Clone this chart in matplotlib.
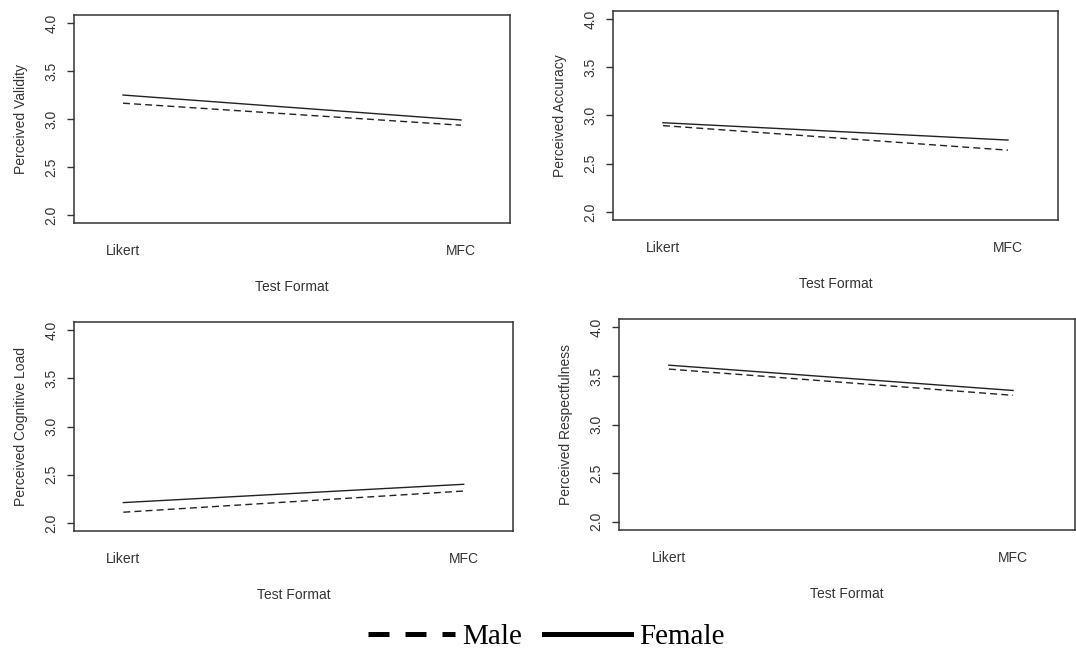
import matplotlib.pyplot as plt
from matplotlib.lines import Line2D

# Data
formats = ['Likert', 'MFC']
measures = ['Perceived Validity', 'Perceived Accuracy',
            'Perceived Cognitive Load', 'Perceived Respectfulness']
female_means = [[3.25, 2.99], [2.925, 2.745], [2.21, 2.40], [3.61, 3.35]]
male_means = [[3.165, 2.935], [2.895, 2.64], [2.11, 2.33], [3.57, 3.30]]
genders = ['Male', 'Female']
y_ticks = [2.0, 2.5, 3.0, 3.5, 4.0]

plt.rcParams['font.family'] = 'Liberation Sans'

W, H = 1076, 653
fig = plt.figure(figsize=(W / 100, H / 100), dpi=100)

# panel boxes in pixels: left, right, top, bottom
boxes = [(74, 510, 15, 223), (613, 1058, 11, 220),
         (74, 513, 322, 531), (619, 1075, 319, 530)]
ink = '#333333'

for i, (l, r, t, b) in enumerate(boxes):
    ax = fig.add_axes([l / W, 1 - b / H, (r - l) / W, (b - t) / H])
    x = list(range(1, len(formats) + 1))
    ax.plot(x, male_means[i], color='#222222', lw=1.0, ls=(0, (5, 3)))
    ax.plot(x, female_means[i], color='#222222', lw=1.0, ls='-')

    # last panel is cut off on the right in the original
    right_pad = 0.145 if i < 3 else 0.18
    ax.set_xlim(1 - 0.145, len(formats) + right_pad)
    ax.set_ylim(1.915, 4.085)
    ax.set_xticks(x)
    ax.set_xticklabels(formats)
    ax.set_yticks(y_ticks)
    ax.set_yticklabels([f'{v:.1f}' for v in y_ticks], rotation=90, va='center')

    ax.tick_params(axis='x', length=0, pad=15, labelsize=10, labelcolor=ink)
    ax.tick_params(axis='y', length=5, width=1, color=ink, pad=6,
                   labelsize=10, labelcolor=ink)
    ax.set_xlabel('Test Format', fontsize=10, color=ink, labelpad=16)
    ax.set_ylabel(measures[i], fontsize=10, color=ink, labelpad=12)
    for s in ax.spines.values():
        s.set_color(ink)
        s.set_linewidth(1.1)

handles = [Line2D([], [], color='black', lw=3.6, ls=(0, (4.2, 3.2))),
           Line2D([], [], color='black', lw=3.6, ls='-')]
fig.legend(handles, genders, loc='center', bbox_to_anchor=(546 / W, 1 - 637 / H),
           ncol=2, frameon=False, handlelength=2.98, handletextpad=0.27,
           columnspacing=0.75, prop={'family': 'Liberation Serif', 'size': 21})

fig.savefig('out.png', dpi=100)
